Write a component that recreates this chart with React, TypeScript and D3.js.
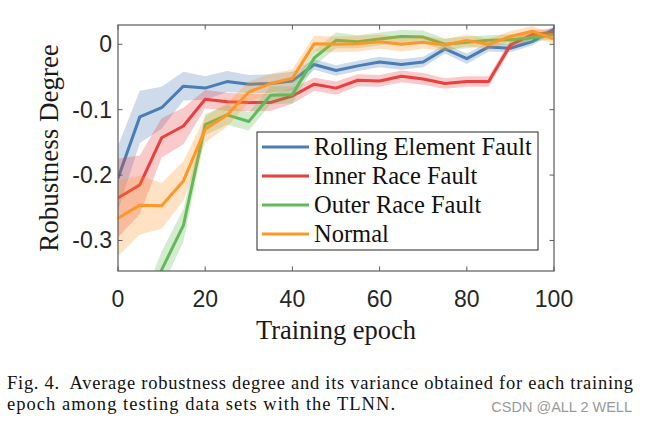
import React from "react";
import * as d3 from "d3";

const epochs = [0, 5, 10, 15, 20, 25, 30, 35, 40, 45, 50, 55, 60, 65, 70, 75, 80, 85, 90, 95, 100];

const rollingMean = [-0.205, -0.111, -0.097, -0.064, -0.067, -0.057, -0.061, -0.060, -0.056, -0.031, -0.040, -0.033, -0.027, -0.031, -0.027, -0.007, -0.022, -0.004, -0.006, 0.004, 0.023];
const rollingErr = [0.05, 0.04, 0.032, 0.022, 0.018, 0.016, 0.014, 0.014, 0.014, 0.008, 0.008, 0.008, 0.008, 0.008, 0.008, 0.007, 0.008, 0.007, 0.006, 0.006, 0.005];

const innerMean = [-0.235, -0.215, -0.143, -0.125, -0.084, -0.088, -0.089, -0.089, -0.079, -0.061, -0.067, -0.055, -0.056, -0.049, -0.053, -0.060, -0.057, -0.057, -0.001, 0.015, 0.018];
const innerErr = [0.06, 0.045, 0.03, 0.028, 0.014, 0.014, 0.013, 0.013, 0.012, 0.01, 0.01, 0.009, 0.009, 0.009, 0.009, 0.008, 0.008, 0.008, 0.007, 0.007, 0.006];

const outerMean = [-0.5, -0.43, -0.345, -0.277, -0.123, -0.108, -0.118, -0.078, -0.077, -0.021, 0.006, 0.004, 0.008, 0.012, 0.011, 0.0, 0.003, 0.006, 0.007, 0.01, 0.015];
const outerErr = [0.03, 0.03, 0.028, 0.025, 0.016, 0.015, 0.014, 0.014, 0.013, 0.012, 0.012, 0.01, 0.01, 0.01, 0.01, 0.009, 0.009, 0.008, 0.008, 0.007, 0.007];

const normalMean = [-0.266, -0.246, -0.247, -0.209, -0.13, -0.108, -0.073, -0.06, -0.052, 0.001, 0.0, 0.001, 0.004, 0.0, 0.003, -0.001, 0.006, 0.0, 0.012, 0.02, 0.008];
const normalErr = [0.058, 0.045, 0.035, 0.03, 0.02, 0.018, 0.016, 0.015, 0.014, 0.012, 0.012, 0.012, 0.011, 0.011, 0.01, 0.009, 0.009, 0.008, 0.008, 0.008, 0.007];

const seriesNames = ["Rolling Element Fault", "Inner Race Fault", "Outer Race Fault", "Normal"];
const seriesColors = ["#4a7db3", "#e8403f", "#62b957", "#ff9628"];
const seriesMeans = [rollingMean, innerMean, outerMean, normalMean];
const seriesErrs = [rollingErr, innerErr, outerErr, normalErr];

const xTicks = [0, 20, 40, 60, 80, 100];
const yTicks = [0, -0.1, -0.2, -0.3];
const yTickLabels = ["0", "-0.1", "-0.2", "-0.3"];

const xLabel = "Training epoch";
const yLabel = "Robustness Degree";
const captionLines = [
  "Fig. 4.\u00a0 Average robustness degree and its variance obtained for each training",
  "epoch among testing data sets with the TLNN.",
];
const watermark = "CSDN @ALL 2 WELL";

export default function App() {
  const W = 648, H = 425;
  const L = 118, R = 554, T = 25, B = 271;
  const x = d3.scaleLinear().domain([0, 100]).range([L, R]);
  const y = d3.scaleLinear().domain([-0.3467, 0.0295]).range([B, T]);

  const serif = "'Liberation Serif', 'Times New Roman', serif";
  const sans = "'Liberation Sans', Arial, Helvetica, sans-serif";

  const line = (m: number[]) =>
    d3.line<number>().x((_, i) => x(epochs[i])).y((v) => y(v))(m) || "";
  const area = (m: number[], e: number[]) =>
    d3
      .area<number>()
      .x((_, i) => x(epochs[i]))
      .y0((v, i) => y(v - e[i]))
      .y1((v, i) => y(v + e[i]))(m) || "";

  const legendRows = [147, 176, 205, 234];
  const axisColor = "#5a5a5a";

  return (
    <svg width={W} height={H} style={{ position: "absolute", left: 0, top: 0, background: "#fff" }}>
      <defs>
        <clipPath id="plotclip">
          <rect x={L} y={T} width={R - L} height={B - T} />
        </clipPath>
      </defs>
      <rect x={0} y={0} width={W} height={H} fill="#fff" />
      <g clipPath="url(#plotclip)">
        {seriesMeans.map((m, k) => (
          <g key={k}>
            <path d={area(m, seriesErrs[k])} fill={seriesColors[k]} fillOpacity={0.28} stroke="none" />
            <path d={line(m)} fill="none" stroke={seriesColors[k]} strokeWidth={3} strokeLinejoin="round" />
          </g>
        ))}
      </g>
      <rect x={L} y={T} width={R - L} height={B - T} fill="none" stroke={axisColor} strokeWidth={1.2} />
      {xTicks.map((t) => (
        <g key={"xt" + t}>
          <line x1={x(t)} x2={x(t)} y1={B} y2={B - 4.5} stroke={axisColor} strokeWidth={1} />
          <line x1={x(t)} x2={x(t)} y1={T} y2={T + 4.5} stroke={axisColor} strokeWidth={1} />
          <text x={x(t)} y={307} textAnchor="middle" fontFamily={sans} fontSize={23} fill="#262626">
            {t}
          </text>
        </g>
      ))}
      {yTicks.map((t, i) => (
        <g key={"yt" + t}>
          <line x1={L} x2={L + 4.5} y1={y(t)} y2={y(t)} stroke={axisColor} strokeWidth={1} />
          <line x1={R} x2={R - 4.5} y1={y(t)} y2={y(t)} stroke={axisColor} strokeWidth={1} />
          <text x={112} y={y(t) + 8} textAnchor="end" fontFamily={sans} fontSize={23} fill="#262626">
            {yTickLabels[i]}
          </text>
        </g>
      ))}
      <text x={(L + R) / 2} y={339} textAnchor="middle" fontFamily={serif} fontSize={26.5} fill="#1a1a1a">
        {xLabel}
      </text>
      <text
        transform={`translate(58, ${(T + B) / 2}) rotate(-90)`}
        textAnchor="middle"
        fontFamily={serif}
        fontSize={27}
        fill="#1a1a1a"
      >
        {yLabel}
      </text>
      <rect x={257} y={132} width={281} height={118} fill="#fff" stroke="#262626" strokeWidth={1} />
      {seriesNames.map((n, k) => (
        <g key={n}>
          <line x1={262} x2={309} y1={legendRows[k]} y2={legendRows[k]} stroke={seriesColors[k]} strokeWidth={3} />
          <text x={314} y={legendRows[k] + 8} fontFamily={serif} fontSize={24.5} fill="#111">
            {n}
          </text>
        </g>
      ))}
      <text x={7} y={389} fontFamily={serif} fontSize={18.5} fill="#111" textLength={626} lengthAdjust="spacing">
        {captionLines[0]}
      </text>
      <text x={7} y={410} fontFamily={serif} fontSize={18.5} fill="#111" textLength={388} lengthAdjust="spacing">
        {captionLines[1]}
      </text>
      <text x={632} y={412} textAnchor="end" fontFamily={sans} fontSize={14.5} fill="#9a9a9a">
        {watermark}
      </text>
    </svg>
  );
}
